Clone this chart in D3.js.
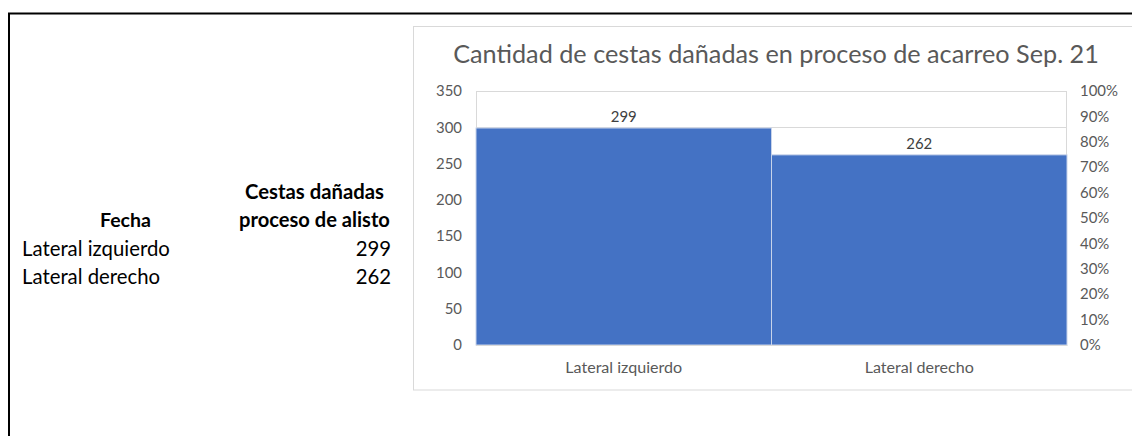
<!DOCTYPE html>
<html><head><meta charset="utf-8">
<script src="https://cdn.jsdelivr.net/npm/d3@7"></script>
<style>
html,body{margin:0;padding:0;background:#fff;}
svg{display:block;}
text{font-family:Lato,"Open Sans",sans-serif;}
</style></head>
<body>
<svg id="c" width="1132" height="436"></svg>
<script>
const categories = ["Lateral izquierdo", "Lateral derecho"];
const values = [299, 262];
const leftTicks = [0, 50, 100, 150, 200, 250, 300, 350];
const rightTicks = [0, 0.1, 0.2, 0.3, 0.4, 0.5, 0.6, 0.7, 0.8, 0.9, 1.0];
const title = "Cantidad de cestas dañadas en proceso de acarreo Sep. 21";
const tableHeaderCol1 = "Fecha";
const tableHeaderCol2 = ["Cestas dañadas", "proceso de alisto"];

const svg = d3.select("#c");

function fitSize(node, fs, target) {
  const w = node.getComputedTextLength();
  return fs * target / w;
}
function fitWidth(sel, target) {
  const fs = parseFloat(sel.attr("font-size"));
  sel.attr("font-size", fitSize(sel.node(), fs, target).toFixed(2));
}

// Outer frame (top and left only visible)
svg.append("line").attr("x1", 8).attr("x2", 1132).attr("y1", 13.5).attr("y2", 13.5)
  .attr("stroke", "#000").attr("stroke-width", 2);
svg.append("line").attr("x1", 9).attr("x2", 9).attr("y1", 13).attr("y2", 436)
  .attr("stroke", "#000").attr("stroke-width", 2);

// Table on left
const tbl = svg.append("g");
const h1 = tbl.append("text").attr("x", 314.5).attr("y", 199).attr("text-anchor", "middle")
  .attr("font-weight", "bold").attr("font-size", 16).attr("fill", "#000").text(tableHeaderCol2[0]);
fitWidth(h1, 139);
const h2 = tbl.append("text").attr("x", 314.5).attr("y", 227).attr("text-anchor", "middle")
  .attr("font-weight", "bold").attr("font-size", 16).attr("fill", "#000").text(tableHeaderCol2[1]);
fitWidth(h2, 151);
const h0 = tbl.append("text").attr("x", 125.5).attr("y", 227).attr("text-anchor", "middle")
  .attr("font-weight", "bold").attr("font-size", 16).attr("fill", "#000").text(tableHeaderCol1);
fitWidth(h0, 51);
const rowNames = tbl.selectAll("text.rn").data(categories).join("text").attr("class", "rn")
  .attr("x", 22).attr("y", (d, i) => 256 + i * 28.3)
  .attr("font-size", 16).attr("fill", "#000").text(d => d);
const bodyFs = fitSize(rowNames.node(), 16, 148);
rowNames.attr("font-size", bodyFs);
tbl.selectAll("text.rv").data(values).join("text").attr("class", "rv")
  .attr("x", 391).attr("y", (d, i) => 256 + i * 28.3).attr("text-anchor", "end")
  .attr("font-size", bodyFs).attr("fill", "#000").text(d => d);

// Chart area
const chartBox = { x: 413.5, y: 26.5, w: 730, h: 363.5 };
svg.append("rect").attr("x", chartBox.x).attr("y", chartBox.y).attr("width", chartBox.w).attr("height", chartBox.h)
  .attr("fill", "#fff").attr("stroke", "#d9d9d9").attr("stroke-width", 1);

const plot = { left: 476, right: 1067, top: 91, bottom: 345 };
const x = d3.scaleBand().domain(categories).range([plot.left, plot.right]).paddingInner(0).paddingOuter(0);
const y = d3.scaleLinear().domain([0, 350]).range([plot.bottom, plot.top]);
const yR = d3.scaleLinear().domain([0, 1]).range([plot.bottom, plot.top]);

// Title
const tt = svg.append("text").attr("x", 776).attr("y", 63).attr("text-anchor", "middle")
  .attr("font-size", 21).attr("fill", "#595959").text(title);
fitWidth(tt, 646);

// Gridlines
svg.append("g").selectAll("line").data(leftTicks).join("line")
  .attr("x1", plot.left).attr("x2", plot.right)
  .attr("y1", d => Math.round(y(d)) + 0.5).attr("y2", d => Math.round(y(d)) + 0.5)
  .attr("stroke", "#d9d9d9").attr("stroke-width", 1);
// plot border left/right
svg.append("line").attr("x1", plot.left + 0.5).attr("x2", plot.left + 0.5).attr("y1", plot.top).attr("y2", plot.bottom)
  .attr("stroke", "#d9d9d9");
svg.append("line").attr("x1", plot.right - 0.5).attr("x2", plot.right - 0.5).attr("y1", plot.top).attr("y2", plot.bottom)
  .attr("stroke", "#d9d9d9");

// Bars
svg.append("g").selectAll("rect").data(values).join("rect")
  .attr("x", (d, i) => x(categories[i]))
  .attr("width", x.bandwidth())
  .attr("y", d => y(d))
  .attr("height", d => y(0) - y(d))
  .attr("fill", "#4472C4")
  .attr("stroke", "#c7d3ea").attr("stroke-width", 1);

// Data labels
const dl = svg.append("g").selectAll("text").data(values).join("text")
  .attr("x", (d, i) => x(categories[i]) + x.bandwidth() / 2)
  .attr("y", d => y(d) - 6)
  .attr("text-anchor", "middle").attr("font-size", 14).attr("fill", "#404040")
  .text(d => d);
dl.attr("font-size", fitSize(dl.node(), 14, 26));

// Left axis
const yAxis = svg.append("g").attr("transform", `translate(${plot.left},0)`)
  .call(d3.axisLeft(y).tickValues(leftTicks).tickSize(0).tickPadding(14));
yAxis.select(".domain").remove();
const yl = yAxis.selectAll("text").attr("font-family", "Lato,'Open Sans',sans-serif").attr("font-size", 14).attr("fill", "#595959");
yl.attr("font-size", fitSize(yl.nodes()[yl.size() - 1], 14, 26));

// Right axis
const rAxis = svg.append("g").attr("transform", `translate(${plot.right},0)`)
  .call(d3.axisRight(yR).tickValues(rightTicks).tickSize(0).tickPadding(13).tickFormat(d3.format(".0%")));
rAxis.select(".domain").remove();
const rl = rAxis.selectAll("text").attr("font-family", "Lato,'Open Sans',sans-serif").attr("font-size", 14).attr("fill", "#595959");
rl.attr("font-size", fitSize(rl.nodes()[rl.size() - 1], 14, 38));

// Bottom axis
const xAxis = svg.append("g").attr("transform", `translate(0,${plot.bottom})`)
  .call(d3.axisBottom(x).tickSize(0).tickPadding(17));
xAxis.select(".domain").attr("stroke", "#d9d9d9");
const xl = xAxis.selectAll("text").attr("font-family", "Lato,'Open Sans',sans-serif").attr("font-size", 14).attr("fill", "#595959");
xl.attr("font-size", fitSize(xl.node(), 14, 117));
</script>
</body></html>
